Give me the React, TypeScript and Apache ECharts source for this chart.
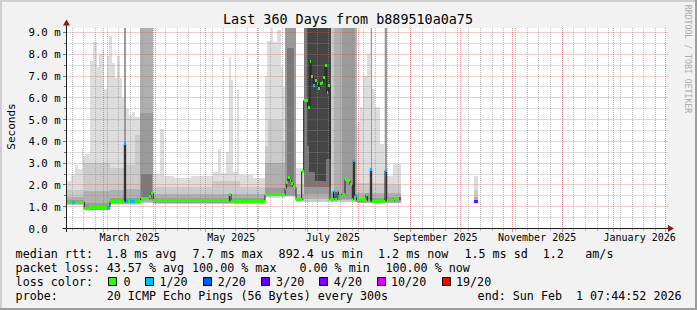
import React, { useEffect, useRef } from "react";
import * as echarts from "echarts";

// ---------- time frame ----------
const DAY_MS = 86400000;
const START_MS = Date.UTC(2025, 1, 6, 7, 44, 52); // end (Feb 1 2026 07:44:52) minus 360 days
const SPAN_DAYS = 360;
const Y_MAX = 9.205; // ms at the top of the canvas

const TITLE = "Last 360 Days from b889510a0a75";

// ---------- median rtt: [startDay, endDay, median ms, lost pings of 20] ----------
const medianSegments: number[][] = [
  [0.3, 3.6, 1.2, 0], [3.6, 5.2, 1.2, 1], [5.2, 11.0, 1.2, 0], [11.0, 13.8, 0.9, 0],
  [13.8, 24.6, 0.97, 0], [24.6, 26.4, 0.97, 1], [26.4, 35.0, 1.25, 0], [35.0, 35.8, 3.88, 1],
  [35.8, 36.9, 1.22, 1], [36.9, 38.4, 1.22, 0], [38.4, 41.4, 1.22, 1], [41.4, 44.7, 1.25, 0],
  [44.7, 49.8, 1.36, 0], [49.8, 51.0, 1.45, 0], [51.0, 52.4, 1.62, 0], [52.4, 98.0, 1.27, 0],
  [98.0, 99.0, 1.58, 0], [99.0, 119.4, 1.25, 0], [119.4, 131.4, 1.54, 0], [131.4, 132.2, 1.85, 0],
  [132.2, 133.2, 2.12, 0], [133.2, 134.2, 2.32, 0], [134.2, 135.2, 2.2, 0], [135.2, 136.2, 2.08, 0],
  [136.2, 137.4, 1.92, 0], [137.4, 138.0, 1.88, 1], [138.0, 141.4, 1.32, 0], [141.4, 142.6, 2.61, 0],
  [142.6, 145.0, 5.87, 0], [145.0, 146.4, 5.57, 0], [146.4, 147.0, 7.67, 0], [147.0, 148.4, 6.98, 0],
  [148.4, 149.4, 6.56, 1], [149.4, 150.4, 6.8, 0], [150.4, 151.4, 6.64, 0], [151.4, 152.4, 6.41, 0],
  [152.4, 153.4, 6.64, 0], [153.4, 154.4, 6.72, 0], [154.4, 155.4, 6.95, 0], [155.4, 156.4, 7.47, 0],
  [156.4, 157.4, 6.26, 0], [157.4, 158.4, 6.55, 0], [158.4, 160.5, 1.32, 0], [160.5, 161.4, 1.68, 1],
  [161.4, 162.6, 1.32, 0], [162.6, 163.4, 1.68, 1], [163.4, 164.4, 1.47, 1], [164.4, 165.4, 1.47, 0],
  [165.4, 167.4, 1.58, 0], [167.4, 169.2, 2.25, 0], [169.2, 170.4, 2.2, 0], [170.4, 171.8, 2.0, 0],
  [171.8, 172.4, 1.33, 0], [172.4, 173.2, 3.12, 1], [173.2, 174.4, 1.52, 1], [174.4, 180.0, 1.32, 0],
  [180.0, 181.0, 1.57, 0], [181.0, 182.6, 1.28, 0], [182.6, 183.4, 2.73, 1], [183.4, 191.4, 1.25, 0],
  [191.4, 192.4, 2.65, 1], [192.4, 196.8, 1.27, 0], [196.8, 200.0, 1.39, 0], [200.0, 200.8, 1.4, 10],
  [245.0, 247.0, 1.22, 4],
];

// ---------- smoke: nested ping-spread bands [startDay, endDay, low ms, high ms] ----------
const smokeOuter: number[][] = [
  [0.3, 3.0, 1.08, 2.2], [3.0, 5.4, 1.08, 2.45], [5.4, 7.4, 1.08, 2.9], [7.4, 9.4, 1.08, 2.75],
  [9.4, 10.4, 1.08, 3.7], [10.4, 11.4, 0.85, 3.35], [11.4, 14.6, 0.82, 3.4], [14.6, 16.4, 0.82, 7.7],
  [16.4, 18.4, 0.84, 8.55], [18.4, 20.0, 0.86, 7.4], [20.0, 21.4, 0.86, 8.0], [21.4, 23.0, 0.86, 8.2],
  [23.0, 24.4, 0.86, 6.4], [24.4, 26.0, 0.86, 7.9], [26.0, 27.6, 1.1, 8.85], [27.6, 29.2, 1.1, 7.6],
  [29.2, 30.8, 1.1, 6.9], [30.8, 32.4, 1.1, 7.9], [32.4, 33.6, 1.1, 6.9], [33.6, 35.0, 1.1, 6.0],
  [35.0, 35.8, 1.1, 9.9], [35.8, 37.8, 1.1, 5.5], [37.8, 39.6, 1.1, 5.2], [39.6, 41.6, 1.1, 5.35],
  [41.6, 44.4, 1.1, 5.1], [44.4, 52.4, 1.15, 9.9], [52.4, 56.4, 1.12, 2.5], [56.4, 58.5, 1.12, 4.55],
  [58.5, 65.0, 1.12, 2.4], [65.0, 75.0, 1.12, 2.3], [75.0, 88.2, 1.12, 2.4], [88.2, 91.4, 1.12, 2.6],
  [91.4, 92.8, 1.12, 3.65], [92.8, 96.0, 1.12, 2.55], [96.0, 97.6, 1.12, 3.5], [97.6, 99.0, 1.12, 7.86],
  [99.0, 100.4, 1.12, 6.8], [100.4, 102.8, 1.12, 2.6], [102.8, 104.0, 1.12, 6.4], [104.0, 112.0, 1.12, 2.45],
  [112.0, 119.4, 1.12, 2.3], [119.4, 120.6, 1.42, 7.0], [120.6, 123.0, 1.42, 8.6], [123.0, 124.4, 1.42, 9.9],
  [124.4, 126.6, 1.42, 8.55], [126.6, 128.7, 1.42, 9.1], [128.7, 130.4, 1.42, 7.4], [130.4, 131.4, 1.42, 6.5],
  [131.4, 138.0, 1.45, 9.9], [138.0, 142.6, 1.2, 2.8], [142.6, 174.6, 1.2, 9.9], [174.6, 176.4, 1.15, 4.9],
  [176.4, 178.4, 1.15, 5.6], [178.4, 180.4, 1.15, 7.0], [180.4, 182.6, 1.15, 8.0], [182.6, 183.6, 1.15, 9.9],
  [183.6, 185.4, 1.15, 6.4], [185.4, 188.4, 1.15, 5.6], [188.4, 191.0, 1.15, 3.9], [191.0, 192.4, 1.15, 9.9],
  [192.4, 196.4, 1.15, 2.4], [196.4, 201.0, 1.15, 2.95], [245.0, 247.0, 1.12, 2.4],
];
const smokeLight: number[][] = [
  [0.3, 11.0, 1.1, 1.75], [11.0, 26.4, 0.85, 3.0], [26.4, 35.0, 1.12, 2.8], [35.0, 35.8, 1.12, 9.9],
  [35.8, 41.6, 1.12, 2.9], [41.6, 44.4, 1.12, 4.3], [44.4, 52.4, 1.18, 9.9], [52.4, 88.2, 1.14, 1.9],
  [88.2, 104.4, 1.14, 2.2], [104.4, 119.4, 1.14, 1.9], [119.4, 121.2, 1.45, 3.8], [121.2, 129.6, 1.45, 5.0],
  [129.6, 131.4, 1.45, 4.0], [131.4, 138.0, 1.48, 9.9], [138.0, 142.6, 1.25, 2.0], [142.6, 174.6, 1.22, 9.9],
  [174.6, 182.7, 1.16, 2.1], [182.7, 183.5, 1.16, 9.9], [183.5, 191.4, 1.16, 2.1], [191.4, 192.3, 1.16, 9.9],
  [192.3, 201.0, 1.16, 2.0], [245.0, 247.0, 1.15, 1.75],
];
const smokeMid: number[][] = [
  [0.3, 11.0, 1.12, 1.45], [11.0, 26.4, 0.86, 1.7], [26.4, 35.0, 1.14, 1.75], [35.0, 35.8, 1.14, 9.9],
  [35.8, 44.4, 1.14, 1.8], [44.4, 52.4, 1.2, 9.9], [52.4, 119.4, 1.16, 1.6], [119.4, 131.4, 1.47, 3.0],
  [131.4, 138.0, 1.5, 9.9], [138.0, 142.6, 1.27, 1.6], [142.6, 159.0, 1.35, 9.9], [159.0, 160.8, 1.28, 1.7],
  [160.8, 174.6, 1.3, 9.9], [174.6, 182.7, 1.18, 1.65], [182.7, 183.5, 1.18, 9.9], [183.5, 191.4, 1.18, 1.65],
  [191.4, 192.3, 1.18, 9.9], [192.3, 201.0, 1.18, 1.65], [245.0, 247.0, 1.18, 1.45],
];
const smokeDark: number[][] = [
  [0.3, 11.0, 1.14, 1.3], [11.0, 26.4, 0.87, 1.15], [26.4, 35.0, 1.16, 1.4], [35.0, 35.8, 1.16, 9.9],
  [35.8, 44.4, 1.16, 1.4], [44.4, 52.4, 1.3, 5.3], [52.4, 119.4, 1.18, 1.38], [119.4, 131.4, 1.49, 1.85],
  [131.4, 138.0, 1.52, 9.9], [138.0, 142.6, 1.29, 1.42], [142.6, 159.0, 1.58, 9.9], [159.0, 165.4, 1.3, 1.6],
  [165.4, 173.2, 1.35, 9.9], [173.2, 182.7, 1.2, 1.4], [182.7, 183.5, 1.2, 9.9], [183.5, 191.4, 1.2, 1.4],
  [191.4, 192.3, 1.2, 9.9], [192.3, 201.0, 1.2, 1.45], [245.0, 247.0, 1.18, 1.3],
];
const smokeDarker: number[][] = [
  [45.0, 51.6, 1.35, 2.5], [132.4, 137.0, 1.9, 8.3], [142.8, 159.0, 1.9, 9.9],
];
const smokeCore: number[][] = [
  [144.4, 145.8, 3.8, 9.9], [145.8, 149.4, 2.6, 9.9], [149.4, 156.0, 2.2, 9.9], [156.0, 158.7, 3.2, 9.9],
];
const smokeLayers = [smokeOuter, smokeLight, smokeMid, smokeDark, smokeDarker, smokeCore];
const smokeColors = ["#dddddd", "#cacaca", "#b0b0b0", "#9b9b9b", "#787878", "#454545"];

// ---------- axes ----------
const monthStarts = [
  "2025-03-01", "2025-04-01", "2025-05-01", "2025-06-01", "2025-07-01", "2025-08-01",
  "2025-09-01", "2025-10-01", "2025-11-01", "2025-12-01", "2026-01-01", "2026-02-01",
];
const monthLabels = ["March 2025", "May 2025", "July 2025", "September 2025", "November 2025", "January 2026"];
const FIRST_MONDAY = "2025-02-10";
const yTicks = [0, 1, 2, 3, 4, 5, 6, 7, 8, 9];
const yTickLabels = ["0.0", "1.0 m", "2.0 m", "3.0 m", "4.0 m", "5.0 m", "6.0 m", "7.0 m", "8.0 m", "9.0 m"];
const yMinor = [0.5, 1.5, 2.5, 3.5, 4.5, 5.5, 6.5, 7.5, 8.5];

// ---------- legend ----------
const lossLevels = [0, 1, 2, 3, 4, 10, 19];
const lossLegend = ["0", "1/20", "2/20", "3/20", "4/20", "10/20", "19/20"];
const LOSS_COLORS: Record<number, string> = {
  0: "#26ff00", 1: "#00b8ff", 2: "#0059ff", 3: "#5e00ff", 4: "#7e00ff", 10: "#dd00ff", 19: "#ff0000",
};
const rttStats = ["1.8 ms avg", "7.7 ms max", "892.4 us min", "1.2 ms now", "1.5 ms sd", "1.2", "am/s"];
const lossStats = ["43.57 % avg", "100.00 % max", "0.00 % min", "100.00 % now"];
const probeText = "20 ICMP Echo Pings (56 Bytes) every 300s";
const endText = ["end: Sun Feb", "1 07:44:52 2026"];

const MONO = "DejaVu Sans Mono";
const MAJOR_GRID = "rgba(222,79,79,0.6)";
const MINOR_GRID = "rgba(143,143,143,0.6)";

function dayOf(iso: string): number {
  const [y, m, d] = iso.split("-").map(Number);
  return (Date.UTC(y, m - 1, d) - START_MS) / DAY_MS;
}

function renderSmoke(_p: any, api: any) {
  const layer = api.value(0);
  const a = api.coord([api.value(1), Math.min(api.value(4), Y_MAX)]);
  const b = api.coord([api.value(2), api.value(3)]);
  const x0 = Math.round(a[0]);
  const x1 = Math.round(b[0]);
  const y0 = Math.round(a[1]);
  const y1 = Math.round(b[1]);
  return {
    type: "rect",
    shape: { x: x0, y: y0, width: Math.max(1, x1 - x0), height: Math.max(1, y1 - y0) },
    style: { fill: smokeColors[layer] },
  };
}

function renderGrid(params: any, api: any) {
  const cs = params.coordSys;
  const kind = api.value(0);
  const v = api.value(1);
  const left = Math.floor(cs.x) + 0.5;
  const right = cs.x + cs.width + 2;
  const top = cs.y;
  const bottom = Math.floor(cs.y + cs.height) + 0.5;
  if (kind <= 1) {
    const x = Math.floor(api.coord([v, 0])[0]) + 0.5;
    const c = kind === 0 ? MAJOR_GRID : MINOR_GRID;
    return {
      type: "group",
      children: [
        { type: "line", shape: { x1: x, y1: top, x2: x, y2: bottom - 0.5 }, style: { stroke: c, lineWidth: 1, lineDash: [1, 1] } },
        { type: "line", shape: { x1: x, y1: bottom + 0.5, x2: x, y2: bottom + (kind === 0 ? 3.5 : 2.5) }, style: { stroke: c, lineWidth: 1 } },
      ],
    };
  }
  const y = Math.floor(api.coord([0, v])[1]) + 0.5;
  const c = kind === 2 ? MAJOR_GRID : MINOR_GRID;
  return {
    type: "group",
    children: [
      { type: "line", shape: { x1: left + 1, y1: y, x2: right, y2: y }, style: { stroke: c, lineWidth: 1, lineDash: [1, 1] } },
      { type: "line", shape: { x1: left - (kind === 2 ? 3.5 : 2.5), y1: y, x2: left, y2: y }, style: { stroke: "#777777", lineWidth: 1 } },
    ],
  };
}

function renderAxes(params: any, api: any) {
  const cs = params.coordSys;
  const kind = api.value(0);
  const left = Math.floor(cs.x) + 0.5;
  const bottom = Math.floor(cs.y + cs.height) + 0.5;
  const right = cs.x + cs.width;
  if (kind === 4) {
    return {
      type: "group",
      children: [
        { type: "line", shape: { x1: left - 4, y1: bottom, x2: right + 3, y2: bottom }, style: { stroke: "#1f1f1f", lineWidth: 1 } },
        { type: "line", shape: { x1: left, y1: bottom + 3.5, x2: left, y2: cs.y - 3 }, style: { stroke: "#1f1f1f", lineWidth: 1 } },
        { type: "polygon", shape: { points: [[right + 2, bottom - 3.5], [right + 8, bottom], [right + 2, bottom + 3.5]] }, style: { fill: "#801f1f" } },
        { type: "polygon", shape: { points: [[left - 3.5, cs.y - 2.5], [left, cs.y - 8.5], [left + 3.5, cs.y - 2.5]] }, style: { fill: "#801f1f" } },
      ],
    };
  }
  if (kind === 5) {
    const x = api.coord([api.value(1), 0])[0];
    return {
      type: "text",
      x,
      y: bottom + 9,
      style: { text: monthLabels[api.value(2)], fill: "#000", fontSize: 10, fontFamily: MONO, align: "center", verticalAlign: "middle" },
    };
  }
  const y = api.coord([0, api.value(1)])[1];
  return {
    type: "text",
    x: cs.x - 37.5,
    y: y + 0.5,
    style: { text: yTickLabels[api.value(2)], fill: "#000", fontSize: 10.7, fontFamily: MONO, align: "left", verticalAlign: "middle" },
  };
}

function renderLoss(_p: any, api: any) {
  const a = api.coord([api.value(0), api.value(2)]);
  const b = api.coord([api.value(1), api.value(2)]);
  const x0 = Math.round(a[0]);
  const x1 = Math.round(b[0]);
  return {
    type: "rect",
    shape: { x: x0, y: Math.round(a[1] - 1.5), width: Math.max(1, x1 - x0), height: 3 },
    style: { fill: LOSS_COLORS[api.value(3)] },
  };
}

function buildOption() {
  const smokeData: number[][] = [];
  smokeLayers.forEach((layer, li) => layer.forEach((s) => smokeData.push([li, s[0], s[1], s[2], s[3]])));

  const gridData: number[][] = [];
  for (let d = dayOf(FIRST_MONDAY); d < SPAN_DAYS; d += 7) gridData.push([1, d]);
  yMinor.forEach((v) => gridData.push([3, v]));
  yTicks.filter((v) => v > 0).forEach((v) => gridData.push([2, v]));
  monthStarts.forEach((m) => gridData.push([0, dayOf(m)]));

  const axisData: number[][] = [[4, 0, 0]];
  monthLabels.forEach((_l, i) => {
    const mid = (dayOf(monthStarts[2 * i]) + dayOf(monthStarts[2 * i + 1])) / 2;
    axisData.push([5, mid, i]);
  });
  yTicks.forEach((v, i) => axisData.push([6, v, i]));

  const medianLine: (number | null)[][] = [];
  medianSegments.forEach((s, i) => {
    const prev = medianSegments[i - 1];
    if (prev && Math.abs(prev[1] - s[0]) > 0.01) medianLine.push([(prev[1] + s[0]) / 2, null]);
    medianLine.push([s[0], s[2]], [s[1], s[2]]);
  });

  const txt = (x: number, y: number, text: string, size: number, extra: any = {}) => ({
    type: "text",
    x,
    y,
    silent: true,
    ...extra.el,
    style: { text, fill: "#000", fontSize: size, fontFamily: MONO, align: "left", verticalAlign: "middle", ...extra.style },
  });

  const rowY = [254.3, 268.2, 282.1, 296.0];
  const LF = 11.7;
  const rttX = [106, 192.6, 278.6, 378, 464.4, 542.7, 585.3];
  const lossX = [106.7, 192, 299.4, 385.4];
  const squareX = [108.5, 145.5, 203.5, 261.5, 319.5, 377.5, 442.5];
  const squareLabelX = [123.4, 159.4, 217.7, 276.1, 333.8, 391, 456];

  const graphic: any[] = [
    { type: "rect", shape: { x: 0, y: 0, width: 697, height: 2 }, style: { fill: "#cfcfcf" }, silent: true },
    { type: "rect", shape: { x: 0, y: 0, width: 2, height: 310 }, style: { fill: "#cfcfcf" }, silent: true },
    { type: "rect", shape: { x: 0, y: 308, width: 697, height: 2 }, style: { fill: "#9e9e9e" }, silent: true },
    { type: "rect", shape: { x: 695, y: 0, width: 2, height: 310 }, style: { fill: "#9e9e9e" }, silent: true },
    txt(348, 19.4, TITLE, 13.4, { style: { align: "center" } }),
    txt(11, 126.5, "Seconds", 11, { el: { rotation: Math.PI / 2 }, style: { align: "center" } }),
    txt(687.5, 59, "RRDTOOL / TOBI OETIKER", 8.2, { el: { rotation: -Math.PI / 2 }, style: { align: "center", fill: "#ababab" } }),
    txt(15.6, rowY[0], "median rtt:", LF),
    ...rttStats.map((s, i) => txt(rttX[i], rowY[0], s, LF)),
    txt(15.6, rowY[1], "packet loss:", LF),
    ...lossStats.map((s, i) => txt(lossX[i], rowY[1], s, LF)),
    txt(15.6, rowY[2], "loss color:", LF),
    ...lossLegend.map((s, i) => txt(squareLabelX[i], rowY[2], s, LF)),
    ...lossLevels.map((lv, i) => ({
      type: "rect",
      silent: true,
      shape: { x: squareX[i], y: 277.5, width: 8, height: 8 },
      style: { fill: LOSS_COLORS[lv], stroke: "#000", lineWidth: 1 },
    })),
    txt(15.6, rowY[3], "probe:", LF),
    txt(106.7, rowY[3], probeText, LF),
    txt(477.6, rowY[3], endText[0], LF),
    txt(576, rowY[3], endText[1], LF),
  ];

  return {
    animation: false,
    backgroundColor: "#f2f2f2",
    grid: { left: 66, top: 28, width: 600, height: 200.5, show: true, backgroundColor: "#ffffff", borderWidth: 0 },
    xAxis: { type: "value", min: 0, max: SPAN_DAYS, show: false },
    yAxis: { type: "value", min: 0, max: Y_MAX, show: false },
    series: [
      { type: "custom", name: "smoke", renderItem: renderSmoke, data: smokeData, z: 1, silent: true },
      { type: "custom", name: "grid", renderItem: renderGrid, data: gridData, z: 2, silent: true },
      {
        type: "line",
        name: "median",
        data: medianLine,
        z: 3,
        silent: true,
        symbol: "none",
        showSymbol: false,
        connectNulls: false,
        lineStyle: { color: "#202020", width: 1 },
      },
      { type: "custom", name: "loss", renderItem: renderLoss, data: medianSegments, z: 4, silent: true },
      { type: "custom", name: "axes", renderItem: renderAxes, data: axisData, z: 5, silent: true },
    ],
    graphic,
  };
}

export default function App() {
  const ref = useRef<HTMLDivElement>(null);
  useEffect(() => {
    if (!ref.current) return;
    const chart = echarts.init(ref.current, null, { renderer: "svg" });
    chart.setOption(buildOption() as any);
    return () => chart.dispose();
  }, []);
  return <div ref={ref} style={{ position: "absolute", left: 0, top: 0, width: 697, height: 310 }} />;
}
